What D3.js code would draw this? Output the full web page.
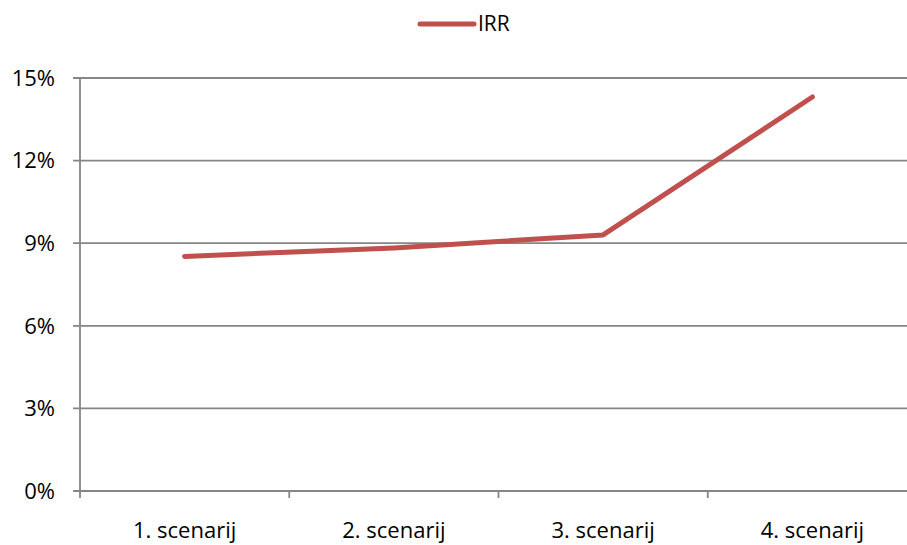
<!DOCTYPE html>
<html>
<head>
<meta charset="utf-8">
<script src="https://cdn.jsdelivr.net/npm/d3@7"></script>
<style>
  body { margin: 0; background: #fff; }
  svg { display: block; font-family: "Open Sans", sans-serif; }
</style>
</head>
<body>
<svg id="chart" width="907" height="545"></svg>
<script>
const categories = ["1. scenarij", "2. scenarij", "3. scenarij", "4. scenarij"];
const irr = [0.0852, 0.0883, 0.0930, 0.1431];
const yTicks = [0, 0.03, 0.06, 0.09, 0.12, 0.15];
const seriesName = "IRR";

const width = 907, height = 545;
const margin = { top: 78, right: -10, bottom: 54, left: 80 };

const svg = d3.select("#chart");

const x = d3.scaleBand()
  .domain(categories)
  .range([margin.left, width - margin.right]);

const y = d3.scaleLinear()
  .domain([0, 0.15])
  .range([height - margin.bottom, margin.top]);

const grey = "#868686";
const red = "#C0504D";

// gridlines
svg.append("g")
  .selectAll("line")
  .data(yTicks)
  .join("line")
  .attr("x1", margin.left - 7)
  .attr("x2", width - margin.right)
  .attr("y1", d => y(d))
  .attr("y2", d => y(d))
  .attr("stroke", grey)
  .attr("stroke-width", 1.8);

// y axis line
svg.append("line")
  .attr("x1", margin.left).attr("x2", margin.left)
  .attr("y1", y(0.15)).attr("y2", y(0) + 7)
  .attr("stroke", grey).attr("stroke-width", 1.8);

// y labels
svg.append("g")
  .selectAll("text")
  .data(yTicks)
  .join("text")
  .attr("x", 55)
  .attr("y", d => y(d))
  .attr("dy", "0.35em")
  .attr("text-anchor", "end")
  .attr("font-size", 22)
  .attr("fill", "#000")
  .text(d => d3.format(".0%")(d));

// x ticks at band boundaries
const bounds = categories.map(c => x(c)).concat([x(categories[categories.length - 1]) + x.bandwidth()]);
svg.append("g")
  .selectAll("line")
  .data(bounds.slice(1))
  .join("line")
  .attr("x1", d => d).attr("x2", d => d)
  .attr("y1", y(0)).attr("y2", y(0) + 7)
  .attr("stroke", grey).attr("stroke-width", 1.8);

// x labels
svg.append("g")
  .selectAll("text")
  .data(categories)
  .join("text")
  .attr("x", d => x(d) + x.bandwidth() / 2)
  .attr("y", 538)
  .attr("text-anchor", "middle")
  .attr("font-size", 22)
  .attr("fill", "#000")
  .text(d => d);

// series line
const line = d3.line()
  .x((d, i) => x(categories[i]) + x.bandwidth() / 2)
  .y(d => y(d));

svg.append("path")
  .datum(irr)
  .attr("d", line)
  .attr("fill", "none")
  .attr("stroke", red)
  .attr("stroke-width", 5)
  .attr("stroke-linecap", "round")
  .attr("stroke-linejoin", "round");

// legend
const legend = svg.append("g").attr("transform", "translate(420,24)");
legend.append("line")
  .attr("x1", 0).attr("x2", 54)
  .attr("stroke", red).attr("stroke-width", 5)
  .attr("stroke-linecap", "round");
legend.append("text")
  .attr("x", 58)
  .attr("dy", "0.35em")
  .attr("font-size", 21)
  .text(seriesName);
</script>
</body>
</html>
